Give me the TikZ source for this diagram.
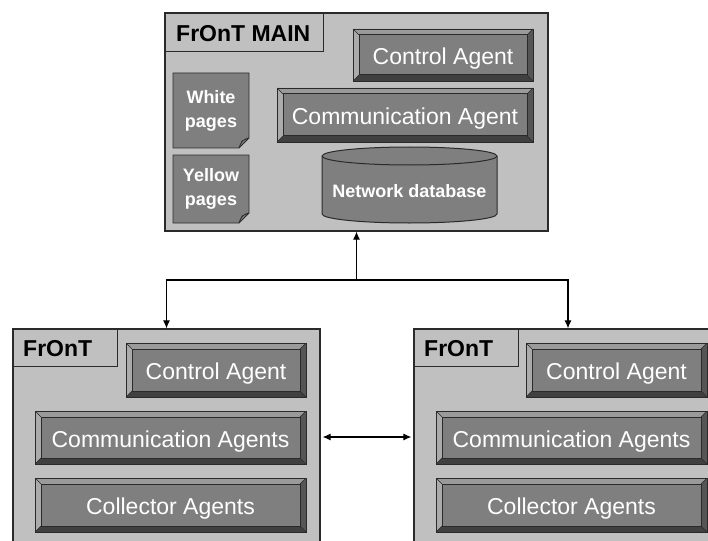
\documentclass[tikz,border=0pt]{standalone}
\usepackage{fontspec}
\setmainfont{Liberation Sans}
\usetikzlibrary{arrows.meta,calc}
\definecolor{panel}{HTML}{C0C0C0}
\definecolor{face}{HTML}{7F7F7F}
\definecolor{bevleft}{HTML}{ABABAB}
\definecolor{bevtop}{HTML}{9A9A9A}
\definecolor{bevright}{HTML}{555555}
\definecolor{bevbottom}{HTML}{404040}
\definecolor{edge}{HTML}{2A2A2A}
\tikzset{
  panelbox/.style={draw=edge, line width=1.2pt, fill=panel, inner sep=0pt},
  tabbox/.style={draw=edge, line width=1pt},
  titletext/.style={font=\bfseries\fontsize{23}{27}\selectfont, inner sep=0pt, anchor=west},
  agentbtn/.style={inner sep=0pt, fill=face, draw=edge, line width=0.9pt, text=white,
    font=\fontsize{23}{27}\selectfont, text height=19.5pt, text depth=0pt,
    path picture={
      \fill[bevtop] let \p1=(path picture bounding box.south west),
                \p2=(path picture bounding box.north east) in
        (\x1,\y2) -- (\x2,\y2) -- (\x2-6pt,\y2-6pt) -- (\x1+6pt,\y2-6pt) -- cycle;
      \fill[bevleft] let \p1=(path picture bounding box.south west),
                \p2=(path picture bounding box.north east) in
        (\x1,\y1) -- (\x1,\y2) -- (\x1+6pt,\y2-6pt) -- (\x1+6pt,\y1+6pt) -- cycle;
      \fill[bevright] let \p1=(path picture bounding box.south west),
                \p2=(path picture bounding box.north east) in
        (\x2,\y1) -- (\x2,\y2) -- (\x2-6pt,\y2-6pt) -- (\x2-6pt,\y1+6pt) -- cycle;
      \fill[bevbottom] let \p1=(path picture bounding box.south west),
                \p2=(path picture bounding box.north east) in
        (\x1,\y1) -- (\x2,\y1) -- (\x2-6pt,\y1+6pt) -- (\x1+6pt,\y1+6pt) -- cycle;
      \draw[edge, line width=0.5pt] let \p1=(path picture bounding box.south west),
                \p2=(path picture bounding box.north east) in
        (\x1,\y2) -- (\x1+6pt,\y2-6pt) (\x2,\y2) -- (\x2-6pt,\y2-6pt)
        (\x1,\y1) -- (\x1+6pt,\y1+6pt) (\x2,\y1) -- (\x2-6pt,\y1+6pt);
      \draw[edge, line width=1pt] let \p1=(path picture bounding box.south west),
                \p2=(path picture bounding box.north east) in
        (\x1+6pt,\y1+6pt) rectangle (\x2-6pt,\y2-6pt);
    }},
  pageshape/.style={fill=face, draw=edge, line width=0.9pt, line join=round},
  pagetext/.style={text=white, align=center, inner sep=0pt,
    font=\bfseries\fontsize{18}{24}\selectfont},
  dbshape/.style={fill=face, draw=edge, line width=1pt},
  arr/.style={-{Latex[length=8pt,width=7pt]}, line width=1.1pt},
  biarr/.style={{Latex[length=8pt,width=7pt]}-{Latex[length=8pt,width=7pt]}, line width=1.1pt},
}
\begin{document}
\begin{tikzpicture}[x=1pt, y=-1pt]
\useasboundingbox (0,0) rectangle (708,540);
\clip (0,0) rectangle (708,540);
\fill[white] (0,0) rectangle (708,540);

% ---- main FrOnT node ----
\node[panelbox, minimum width=383pt, minimum height=218pt] (main) at (356.5,122) {};
\draw[tabbox] (165,13) rectangle (323,52);
\node[titletext] (maintitle) at (176,34) {FrOnT MAIN};

\node[agentbtn, minimum width=180pt, minimum height=52pt] (mctrl) at (443,55) {Control Agent};
\node[agentbtn, minimum width=256pt, minimum height=54pt] (mcomm) at (405,115) {Communication Agent};

% white and yellow pages (sheet with folded corner)
\coordinate (wpc) at (211,110.5);
\filldraw[pageshape] (173,73) -- (249,73) -- (249,138) -- (239,148) -- (173,148) -- cycle;
\filldraw[fill=bevright, draw=edge, line width=0.6pt] (249,138) .. controls (244,139) and (241,141) .. (239,148) -- (242,141) -- cycle;
\node[pagetext] (wp) at (wpc) {White\\pages};

\coordinate (ypc) at (211,189);
\filldraw[pageshape] (173,155) -- (249,155) -- (249,213) -- (239,223) -- (173,223) -- cycle;
\filldraw[fill=bevright, draw=edge, line width=0.6pt] (249,213) .. controls (244,214) and (241,216) .. (239,223) -- (242,216) -- cycle;
\node[pagetext] (yp) at (ypc) {Yellow\\pages};

% network database cylinder
\filldraw[dbshape] (322,156) -- (322,214)
  arc[start angle=180, end angle=360, x radius=87.5pt, y radius=9pt]
  -- (497,156)
  arc[start angle=0, end angle=180, x radius=87.5pt, y radius=9pt] -- cycle;
\draw[edge, line width=1pt] (322,156) arc[start angle=180, end angle=360, x radius=87.5pt, y radius=9pt];
\node[text=white, inner sep=0pt, font=\bfseries\fontsize{18}{22}\selectfont] (db) at (409.5,191) {Network database};

% ---- lower-left FrOnT node ----
\node[panelbox, minimum width=307pt, minimum height=216pt] (left) at (166.5,437) {};
\draw[tabbox] (13,329) rectangle (117,366);
\node[titletext] (lefttitle) at (23,349) {FrOnT};
\node[agentbtn, minimum width=180pt, minimum height=54pt] (lctrl) at (216,370) {Control Agent};
\node[agentbtn, minimum width=271pt, minimum height=53pt] (lcomm) at (170.5,437.5) {Communication Agents};
\node[agentbtn, minimum width=271pt, minimum height=54pt] (lcoll) at (170.5,505) {Collector Agents};

% ---- lower-right FrOnT node ----
\node[panelbox, minimum width=308pt, minimum height=216pt] (right) at (568,437) {};
\draw[tabbox] (414,329) rectangle (518,366);
\node[titletext] (righttitle) at (424,349) {FrOnT};
\node[agentbtn, minimum width=181pt, minimum height=54pt] (rctrl) at (616.5,370) {Control Agent};
\node[agentbtn, minimum width=271pt, minimum height=53pt] (rcomm) at (571.5,437.5) {Communication Agents};
\node[agentbtn, minimum width=271pt, minimum height=54pt] (rcoll) at (571.5,505) {Collector Agents};

% ---- connectors ----
\coordinate (hub) at (356.5,280);
\draw[arr] (hub) -- (main.south);
\draw[arr] (hub) -| (left.north);
\draw[arr] (hub) -| (right.north);
\draw[biarr, shorten <=2pt, shorten >=2pt] (left.east) -- (right.west);
\end{tikzpicture}
\end{document}
